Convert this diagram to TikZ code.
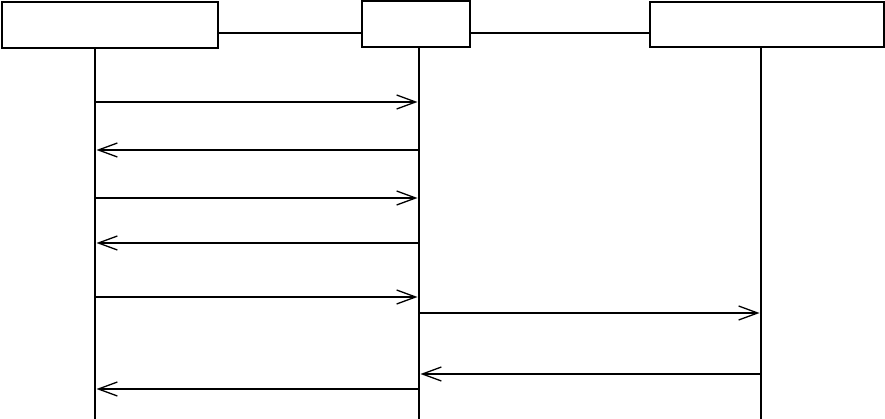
\documentclass[tikz,border=0pt]{standalone}
\usetikzlibrary{arrows.meta}
\begin{document}
\begin{tikzpicture}[x=1pt,y=-1pt,line width=1.3pt,
        >={Straight Barb[length=19pt,width=14pt]},
        actor/.style={draw,minimum height=46pt,inner sep=0pt},
        msg/.style={->,shorten >=1.5pt}]

        \useasboundingbox (0,0) rectangle (885,419);

        \node[actor,minimum width=216pt] (client) at (110,25) {};
        \node[actor,minimum width=108pt] (proxy)  at (416,24) {};
        \node[actor,minimum width=234pt,minimum height=45pt] (server) at (767,24.5) {};

        \coordinate (bar) at (0,33);
        \draw (client.east |- bar) -- (proxy.west |- bar);
        \draw (proxy.east |- bar) -- (server.west |- bar);

        % lifelines
        \coordinate (cEnd) at (95,419);
        \coordinate (pEnd) at (419,419);
        \coordinate (sEnd) at (761,419);
        \draw (client.south -| cEnd) -- (cEnd);
        \draw (proxy.south -| pEnd) -- (pEnd);
        \draw (server.south -| sEnd) -- (sEnd);

        % messages
        \coordinate (m1) at (0,102);
        \coordinate (m2) at (0,150);
        \coordinate (m3) at (0,198);
        \coordinate (m4) at (0,243);
        \coordinate (m5) at (0,297);
        \coordinate (m6) at (0,313);
        \coordinate (m7) at (0,374);
        \coordinate (m8) at (0,389);

        \draw[msg] (cEnd |- m1) -- (pEnd |- m1);
        \draw[msg] (pEnd |- m2) -- (cEnd |- m2);
        \draw[msg] (cEnd |- m3) -- (pEnd |- m3);
        \draw[msg] (pEnd |- m4) -- (cEnd |- m4);
        \draw[msg] (cEnd |- m5) -- (pEnd |- m5);
        \draw[msg] (pEnd |- m6) -- (sEnd |- m6);
        \draw[msg] (sEnd |- m7) -- (pEnd |- m7);
        \draw[msg] (pEnd |- m8) -- (cEnd |- m8);

\end{tikzpicture}
\end{document}
